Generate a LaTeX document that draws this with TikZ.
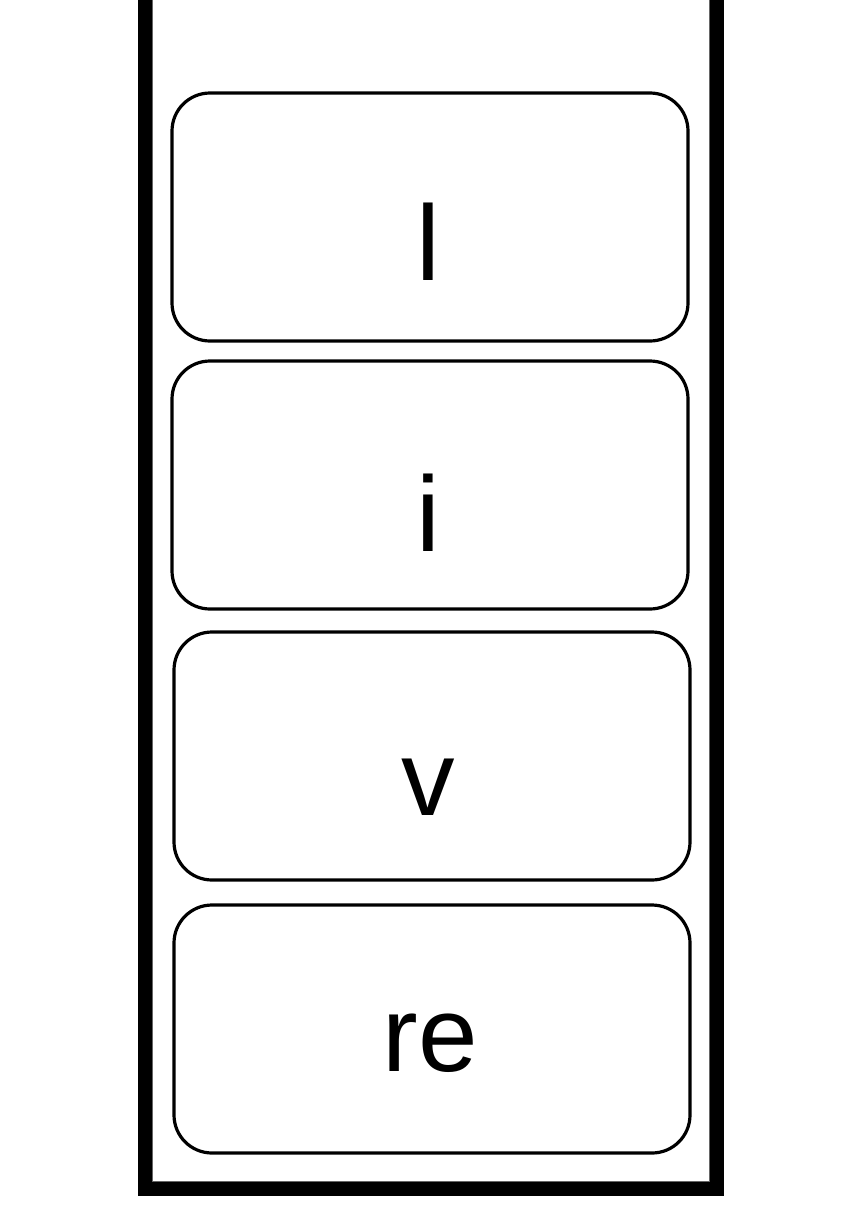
\documentclass[tikz,border=0pt]{standalone}
\usepackage{fontspec}
\setmainfont{Liberation Sans}
\begin{document}
\begin{tikzpicture}[x=1pt,y=-1pt,
  cell/.style={draw=black,line width=3.2pt,rounded corners=38pt},
  lbl/.style={anchor=base,inner sep=0pt,font=\fontsize{107}{107}\selectfont}]
\useasboundingbox (0,0) rectangle (864,1226);
\fill[white] (0,0) rectangle (864,1226);
\draw[line width=15pt,line cap=rect] (145.5,-20) -- (145.5,1188) -- (716.5,1188) -- (716.5,-20);
\draw[line width=0.6pt,black!60] (152.5,-20) -- (152.5,1181) -- (709.5,1181) -- (709.5,-20);
\draw[cell] (172,93) rectangle (688,341) coordinate (b1);
\draw[cell] (172,361) rectangle (688,609) coordinate (b2);
\draw[cell] (174,632) rectangle (690,880) coordinate (b3);
\draw[cell] (174,905) rectangle (690,1153) coordinate (b4);
\node[lbl] (t1) at (428,280) {l};
\node[lbl] (t2) at (428,551) {i};
\node[lbl] (t3) at (428,815) {v};
\node[lbl] (t4) at (430,1071) {re};
\end{tikzpicture}
\end{document}
